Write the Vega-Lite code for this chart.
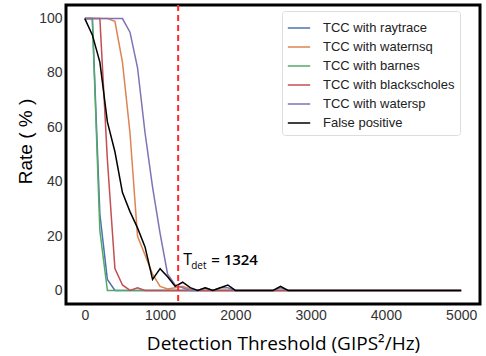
{
  "$schema": "https://vega.github.io/schema/vega-lite/v6.json",
  "width": 414,
  "height": 299,
  "autosize": {"type": "none"},
  "padding": {"left": 66, "top": 5, "right": 6, "bottom": 52},
  "background": "white",
  "config": {
    "view": {"stroke": "black", "strokeWidth": 3},
    "axis": {"domain": false, "ticks": false, "grid": false, "labelColor": "#333", "labelFont": "Liberation Sans", "labelFontSize": 14, "labelPadding": 4, "titleColor": "black", "titleFontWeight": "normal"},
    "legend": {"titleFontSize": 0}
  },
  "datasets": {
    "curves": [
      {"series": "TCC with raytrace", "x": 0, "y": 100},
      {"series": "TCC with raytrace", "x": 100, "y": 100},
      {"series": "TCC with raytrace", "x": 200, "y": 28},
      {"series": "TCC with raytrace", "x": 300, "y": 4},
      {"series": "TCC with raytrace", "x": 400, "y": 0},
      {"series": "TCC with raytrace", "x": 5000, "y": 0},
      {"series": "TCC with waternsq", "x": 0, "y": 100},
      {"series": "TCC with waternsq", "x": 100, "y": 100},
      {"series": "TCC with waternsq", "x": 200, "y": 100},
      {"series": "TCC with waternsq", "x": 300, "y": 100},
      {"series": "TCC with waternsq", "x": 400, "y": 99},
      {"series": "TCC with waternsq", "x": 500, "y": 84},
      {"series": "TCC with waternsq", "x": 600, "y": 58},
      {"series": "TCC with waternsq", "x": 700, "y": 20},
      {"series": "TCC with waternsq", "x": 800, "y": 13},
      {"series": "TCC with waternsq", "x": 900, "y": 6},
      {"series": "TCC with waternsq", "x": 1000, "y": 1.5},
      {"series": "TCC with waternsq", "x": 1100, "y": 0.5},
      {"series": "TCC with waternsq", "x": 1200, "y": 1},
      {"series": "TCC with waternsq", "x": 1300, "y": 1.5},
      {"series": "TCC with waternsq", "x": 1400, "y": 0.5},
      {"series": "TCC with waternsq", "x": 1500, "y": 0},
      {"series": "TCC with waternsq", "x": 5000, "y": 0},
      {"series": "TCC with barnes", "x": 0, "y": 100},
      {"series": "TCC with barnes", "x": 100, "y": 100},
      {"series": "TCC with barnes", "x": 200, "y": 22},
      {"series": "TCC with barnes", "x": 300, "y": 0},
      {"series": "TCC with barnes", "x": 5000, "y": 0},
      {"series": "TCC with blackscholes", "x": 0, "y": 100},
      {"series": "TCC with blackscholes", "x": 100, "y": 100},
      {"series": "TCC with blackscholes", "x": 200, "y": 100},
      {"series": "TCC with blackscholes", "x": 300, "y": 48},
      {"series": "TCC with blackscholes", "x": 400, "y": 8},
      {"series": "TCC with blackscholes", "x": 500, "y": 2},
      {"series": "TCC with blackscholes", "x": 600, "y": 0},
      {"series": "TCC with blackscholes", "x": 700, "y": 1},
      {"series": "TCC with blackscholes", "x": 800, "y": 0},
      {"series": "TCC with blackscholes", "x": 5000, "y": 0},
      {"series": "TCC with watersp", "x": 0, "y": 100},
      {"series": "TCC with watersp", "x": 100, "y": 100},
      {"series": "TCC with watersp", "x": 200, "y": 100},
      {"series": "TCC with watersp", "x": 300, "y": 100},
      {"series": "TCC with watersp", "x": 400, "y": 100},
      {"series": "TCC with watersp", "x": 500, "y": 100},
      {"series": "TCC with watersp", "x": 600, "y": 95},
      {"series": "TCC with watersp", "x": 700, "y": 82},
      {"series": "TCC with watersp", "x": 800, "y": 58},
      {"series": "TCC with watersp", "x": 900, "y": 38},
      {"series": "TCC with watersp", "x": 1000, "y": 21},
      {"series": "TCC with watersp", "x": 1100, "y": 6},
      {"series": "TCC with watersp", "x": 1200, "y": 2},
      {"series": "TCC with watersp", "x": 1300, "y": 1},
      {"series": "TCC with watersp", "x": 1400, "y": 0},
      {"series": "TCC with watersp", "x": 1500, "y": 0},
      {"series": "TCC with watersp", "x": 1600, "y": 1},
      {"series": "TCC with watersp", "x": 1700, "y": 0},
      {"series": "TCC with watersp", "x": 1800, "y": 1},
      {"series": "TCC with watersp", "x": 1900, "y": 1},
      {"series": "TCC with watersp", "x": 2000, "y": 0},
      {"series": "TCC with watersp", "x": 2500, "y": 0},
      {"series": "TCC with watersp", "x": 2600, "y": 1},
      {"series": "TCC with watersp", "x": 2700, "y": 0},
      {"series": "TCC with watersp", "x": 5000, "y": 0},
      {"series": "False positive", "x": 0, "y": 100},
      {"series": "False positive", "x": 100, "y": 94},
      {"series": "False positive", "x": 200, "y": 84},
      {"series": "False positive", "x": 300, "y": 62},
      {"series": "False positive", "x": 400, "y": 51},
      {"series": "False positive", "x": 500, "y": 36},
      {"series": "False positive", "x": 600, "y": 29},
      {"series": "False positive", "x": 700, "y": 23},
      {"series": "False positive", "x": 800, "y": 16},
      {"series": "False positive", "x": 900, "y": 4},
      {"series": "False positive", "x": 1000, "y": 8},
      {"series": "False positive", "x": 1100, "y": 5},
      {"series": "False positive", "x": 1200, "y": 1.5},
      {"series": "False positive", "x": 1300, "y": 3},
      {"series": "False positive", "x": 1400, "y": 1},
      {"series": "False positive", "x": 1500, "y": 0},
      {"series": "False positive", "x": 1600, "y": 1},
      {"series": "False positive", "x": 1700, "y": 0},
      {"series": "False positive", "x": 1800, "y": 1},
      {"series": "False positive", "x": 1900, "y": 2},
      {"series": "False positive", "x": 2000, "y": 0},
      {"series": "False positive", "x": 2500, "y": 0},
      {"series": "False positive", "x": 2600, "y": 1.5},
      {"series": "False positive", "x": 2700, "y": 0},
      {"series": "False positive", "x": 5000, "y": 0}
    ],
    "threshold": [{"x": 1240, "y": 9.5}]
  },
  "layer": [
    {
      "data": {"name": "curves"},
      "mark": {"type": "line", "strokeWidth": 1.5},
      "encoding": {
        "x": {"field": "x", "type": "quantitative", "scale": {"domain": [-250, 5250], "nice": false, "zero": false},
              "axis": {"values": [0, 1000, 2000, 3000, 4000, 5000], "format": "d", "title": "Detection Threshold (GIPS²/Hz)", "titleFont": "Open Sans", "titleFontSize": 19, "titleX": 217, "titleY": 39, "titleBaseline": "middle", "titleAlign": "center"}},
        "y": {"field": "y", "type": "quantitative", "scale": {"domain": [-5, 105], "nice": false, "zero": false},
              "axis": {"values": [0, 20, 40, 60, 80, 100], "title": "Rate ( % )", "titleFont": "Liberation Sans", "titleFontSize": 19, "titleX": -41, "titleY": 136, "titleBaseline": "middle", "titleAlign": "center", "titleAngle": -90}},
        "color": {"field": "series", "type": "nominal",
                  "scale": {"domain": ["TCC with raytrace", "TCC with waternsq", "TCC with barnes", "TCC with blackscholes", "TCC with watersp", "False positive"],
                            "range": ["#4C72B0", "#DD8452", "#55A868", "#C44E52", "#8172B3", "#000000"]},
                  "legend": {"orient": "none", "legendX": 216, "legendY": 6, "title": null, "symbolType": "stroke", "symbolSize": 500, "symbolStrokeWidth": 1.5, "labelFont": "Liberation Sans", "labelFontSize": 13, "labelColor": "#222", "strokeColor": "#dddddd", "fillColor": "white", "cornerRadius": 3, "padding": 5, "rowPadding": -1, "labelOffset": 12}}
      }
    },
    {
      "data": {"name": "threshold"},
      "mark": {"type": "rule", "color": "#FF2A2A", "strokeWidth": 2, "strokeDash": [6, 4]},
      "encoding": {"x": {"field": "x", "type": "quantitative"}}
    },
    {
      "data": {"name": "threshold"},
      "mark": {"type": "text", "text": "T", "font": "Open Sans", "fontSize": 16, "align": "left", "baseline": "alphabetic", "dx": 5, "color": "black"},
      "encoding": {"x": {"field": "x", "type": "quantitative"}, "y": {"field": "y", "type": "quantitative"}}
    },
    {
      "data": {"name": "threshold"},
      "mark": {"type": "text", "text": "det", "font": "Open Sans", "fontSize": 10, "align": "left", "baseline": "alphabetic", "dx": 13, "dy": 4, "color": "black"},
      "encoding": {"x": {"field": "x", "type": "quantitative"}, "y": {"field": "y", "type": "quantitative"}}
    },
    {
      "data": {"name": "threshold"},
      "mark": {"type": "text", "text": "= 1324", "font": "Open Sans", "fontSize": 15, "fontWeight": 600, "align": "left", "baseline": "alphabetic", "dx": 33, "color": "black"},
      "encoding": {"x": {"field": "x", "type": "quantitative"}, "y": {"field": "y", "type": "quantitative"}}
    }
  ]
}
